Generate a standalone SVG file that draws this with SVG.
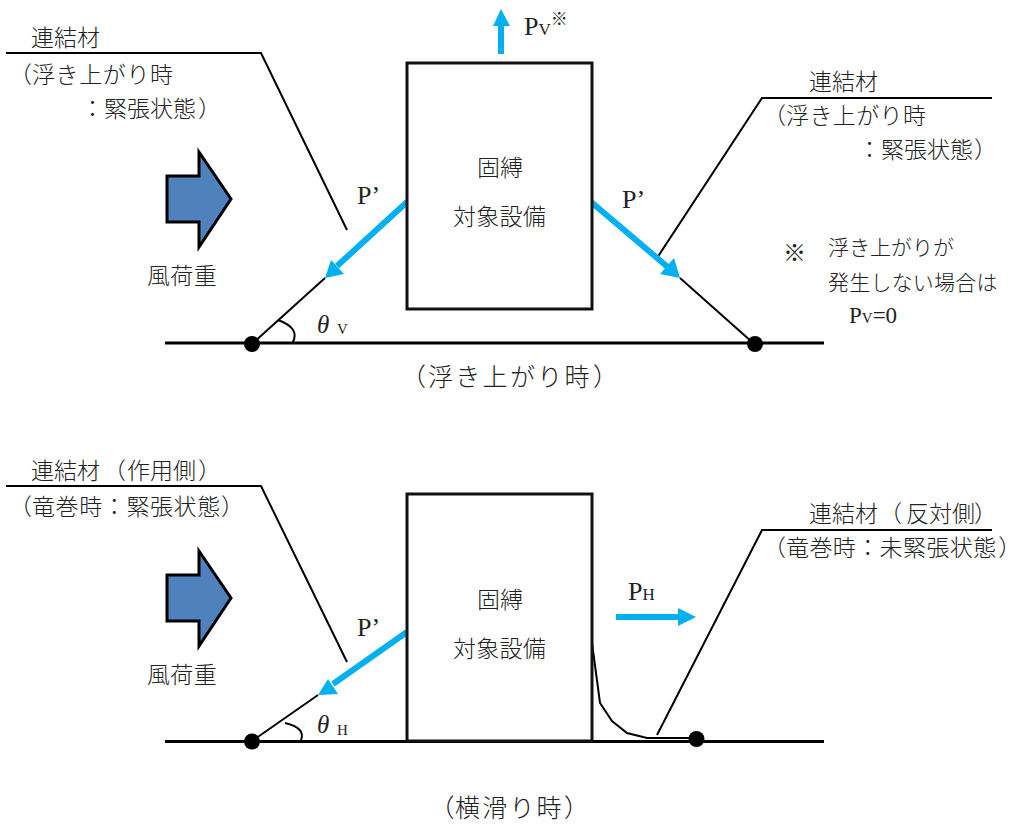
<svg xmlns="http://www.w3.org/2000/svg" width="1012" height="825" viewBox="0 0 1012 825">
<style>
text{font-family:"Liberation Serif","Noto Sans CJK JP",serif;fill:#222;font-size:23px;font-weight:300}
.s{font-size:21px}
.t{font-size:25px}
.l{font-family:"Liberation Serif",serif;font-size:26px}
.sub{font-family:"Liberation Serif",serif;font-size:17px}
.th{font-family:"Liberation Serif",serif;font-size:25px;font-style:italic}
.v{font-family:"Liberation Serif",serif;font-size:15px}
.c{text-anchor:middle}
.p{font-feature-settings:"palt"}
.box{fill:#fff;stroke:#111;stroke-width:3}
.wind{fill:#4F81BD;stroke:#000;stroke-width:3}
.thin{fill:none;stroke:#000;stroke-width:2}
.ground{fill:none;stroke:#000;stroke-width:3}
.load{fill:none;stroke:#00B0F0;stroke-width:6}
.head{fill:#00B0F0}
</style>
<rect width="1012" height="825" fill="#fff"/>
<g id="connectors">
<path class="ground" d="M165 343H824"/>
<path class="ground" d="M165 741.500H824"/>
<path class="thin" d="M6 53H261L347 230"/>
<path class="thin" d="M992 98H762L657 258"/>
<path class="thin" d="M325 278L252 344"/>
<path class="thin" d="M680 278L752 342"/>
<path class="thin" d="M278 320Q300 328 293 342"/>
<path class="thin" d="M6 486H261L347 662"/>
<path class="thin" d="M992 530H762L657 735"/>
<path class="thin" d="M318 695L252 741"/>
<path class="thin" d="M285 723Q306 728 301 740"/>
<path class="thin" d="M590 628L600 703L612 721L627 733L647 738H692"/>
<path class="load" d="M407 202L337 266"/>
<polygon class="head" points="325,278 331,260 344,274"/>
<path class="load" d="M590 201L670 269"/>
<polygon class="head" points="680,278 674,258 660,274"/>
<path class="load" d="M501 54V26"/>
<polygon class="head" points="501,9 510,26 493,26"/>
<path class="load" d="M407 632L333 684"/>
<polygon class="head" points="318,695 328,679 338,694"/>
<path class="load" d="M616 617H680"/>
<polygon class="head" points="696,617 678,608 678,626"/>
</g>
<g id="dots">
<circle cx="252" cy="344" r="8"/>
<circle cx="755" cy="344" r="8"/>
<circle cx="252" cy="741.500" r="8"/>
<circle cx="696.500" cy="739" r="8"/>
</g>
<g id="equipment-top">
<rect class="box" x="407" y="63" width="185" height="246"/>
<text class="c" x="500" y="176">固縛</text>
<text class="c" x="499.500" y="225" letter-spacing=".3">対象設備</text>
</g>
<g id="equipment-bottom">
<rect class="box" x="407" y="494" width="185" height="247"/>
<text class="c" x="500" y="608">固縛</text>
<text class="c" x="499.500" y="657" letter-spacing=".3">対象設備</text>
</g>
<g id="wind-top">
<polygon class="wind" points="167,176 199,176 199,152 231,199 199,247 199,222 167,222"/>
<text class="c" x="182" y="284" letter-spacing=".3">風荷重</text>
</g>
<g id="wind-bottom">
<polygon class="wind" points="167,575 199,575 199,551 231,598 199,646 199,621 167,621"/>
<text class="c" x="182" y="683" letter-spacing=".3">風荷重</text>
</g>
<g id="labels-top">
<text x="31" y="46">連結材</text>
<text y="83"><tspan x="9">（</tspan><tspan x="32" letter-spacing=".6">浮き上がり時</tspan></text>
<text y="117"><tspan x="81">：</tspan><tspan x="104">緊張状態</tspan><tspan x="198">）</tspan></text>
<text x="809" y="90">連結材</text>
<text y="124"><tspan x="763">（</tspan><tspan x="786" letter-spacing=".4">浮き上がり時</tspan></text>
<text y="158"><tspan x="858">：</tspan><tspan x="881">緊張状態</tspan><tspan x="974">）</tspan></text>
<text class="l" x="524" y="35">P<tspan class="sub">V</tspan><tspan font-size="17" font-family="'Noto Sans CJK JP',sans-serif" dy="-10">※</tspan></text>
<text class="l" x="357" y="204">P’</text>
<text class="l" x="622" y="208">P’</text>
<text class="th" x="317" y="333">θ</text>
<text class="v" x="337" y="334">V</text>
<text x="783" y="261" font-size="26" font-family="'Noto Sans CJK JP',sans-serif">※</text>
<text x="828" y="255" class="s">浮き上がりが</text>
<text x="828" y="290" class="s" letter-spacing=".2">発生しない場合は</text>
<text x="849" y="323" font-size="21">P<tspan font-size="15">V</tspan>=0</text>
<text class="t" y="386"><tspan x="401">（</tspan><tspan x="428" letter-spacing="2.300">浮き上がり時</tspan><tspan x="593">）</tspan></text>
</g>
<g id="labels-bottom">
<text y="479"><tspan x="31">連結材</tspan><tspan x="103">（</tspan><tspan x="127">作用側</tspan><tspan x="198">）</tspan></text>
<text y="515"><tspan x="9">（</tspan><tspan x="32" letter-spacing=".6">竜巻時：緊張状態</tspan><tspan x="221">）</tspan></text>
<text y="522"><tspan x="809">連結材</tspan><tspan x="879">（</tspan><tspan x="906">反対側</tspan><tspan x="974">）</tspan></text>
<text y="556"><tspan x="763">（</tspan><tspan x="786" letter-spacing=".4">竜巻時：未緊張状態</tspan><tspan x="999" class="p">）</tspan></text>
<text class="l" x="357" y="636">P’</text>
<text class="l" x="628" y="600">P<tspan class="sub">H</tspan></text>
<text class="th" x="317" y="733">θ</text>
<text class="v" x="337" y="735">H</text>
<text class="t" y="817"><tspan x="429.500">（</tspan><tspan x="455" letter-spacing="2.200">横滑り時</tspan><tspan x="564">）</tspan></text>
</g>
</svg>
